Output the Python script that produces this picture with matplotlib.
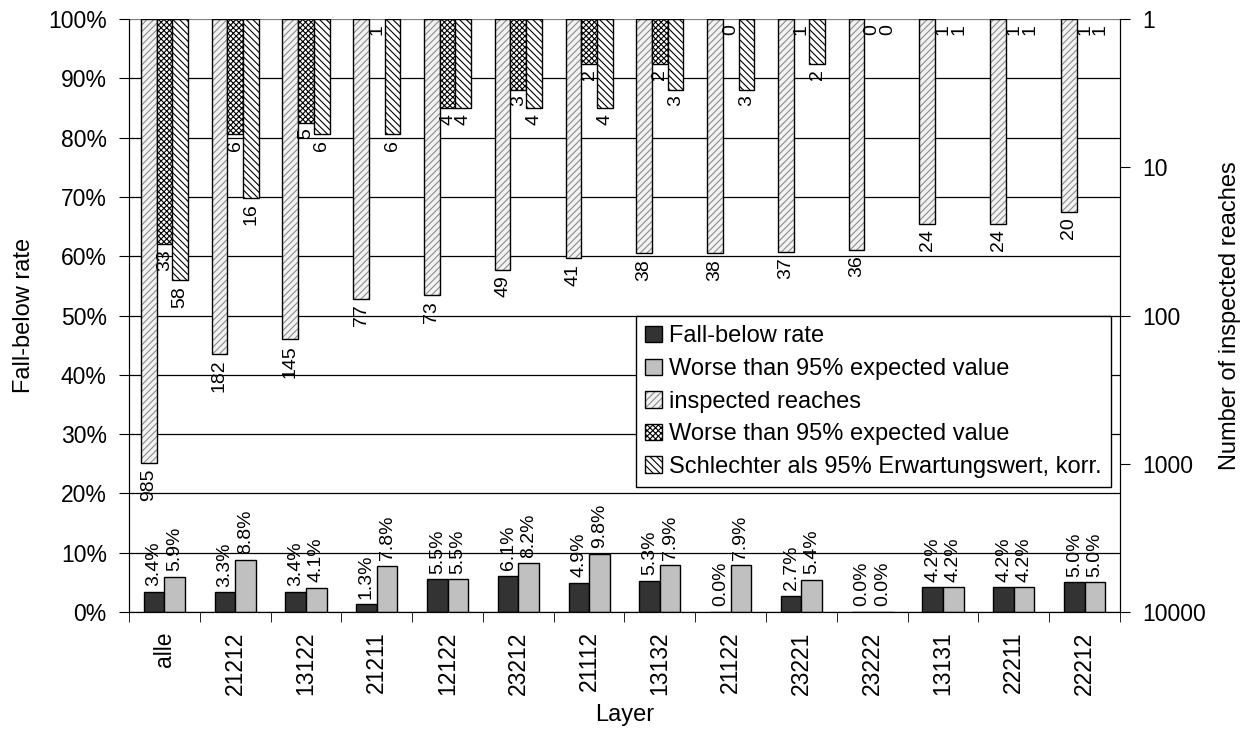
import numpy as np
import matplotlib.pyplot as plt
from matplotlib.patches import Patch
from matplotlib.ticker import PercentFormatter, NullLocator

plt.rcParams['font.family'] = ['Liberation Sans', 'DejaVu Sans']
plt.rcParams['hatch.linewidth'] = 0.8

# data
layers = ['alle', '21212', '13122', '21211', '12122', '23212', '21112',
          '13132', '21122', '23221', '23222', '13131', '22211', '22212']
fall_below = [3.4, 3.3, 3.4, 1.3, 5.5, 6.1, 4.9, 5.3, 0.0, 2.7, 0.0, 4.2, 4.2, 5.0]
worse_rate = [5.9, 8.8, 4.1, 7.8, 5.5, 8.2, 9.8, 7.9, 7.9, 5.4, 0.0, 4.2, 4.2, 5.0]
inspected = [985, 182, 145, 77, 73, 49, 41, 38, 38, 37, 36, 24, 24, 20]
worse_count = [33, 6, 5, 1, 4, 3, 2, 2, 0, 1, 0, 1, 1, 1]
worse_korr = [58, 16, 6, 6, 4, 4, 4, 3, 3, 2, 0, 1, 1, 1]

fig = plt.figure(figsize=(12.49, 7.35), dpi=100)
ax = fig.add_axes([0.1033, 0.1673, 0.7934, 0.8068])
ax2 = ax.twinx()

x = np.arange(len(layers))

# lower bars: rates (left axis)
w = 0.29
ax.bar(x - w/2, np.array(fall_below)/100, w, color='#333333', edgecolor='black', lw=1, zorder=2)
ax.bar(x + w/2, np.array(worse_rate)/100, w, color='#c0c0c0', edgecolor='black', lw=1, zorder=2)
for xi, v in zip(x - w/2, fall_below):
    ax.annotate(f'{v:.1f}%', (xi, v/100), xytext=(0, 4), textcoords='offset points',
                rotation=90, ha='center', va='bottom', fontsize=14)
for xi, v in zip(x + w/2, worse_rate):
    ax.annotate(f'{v:.1f}%', (xi, v/100), xytext=(0, 4), textcoords='offset points',
                rotation=90, ha='center', va='bottom', fontsize=14)

ax.set_xlim(-0.5, len(layers) - 0.5)
ax.set_ylim(0, 1)
ax.set_yticks(np.arange(0, 1.01, 0.1))
ax.yaxis.set_major_formatter(PercentFormatter(1, decimals=0))
ax.yaxis.grid(True, color='black', lw=0.9)
ax.get_ygridlines()[-1].set_color('#808080')
ax.set_axisbelow(True)
ax.set_xticks(x, layers, rotation=90)
ax.set_xticks(np.arange(-0.5, len(layers), 1), minor=True)
ax.tick_params(axis='x', which='major', length=0, pad=14, labelsize=16.5)
ax.tick_params(axis='x', which='minor', length=7, direction='out')
ax.tick_params(axis='y', length=7, pad=9, labelsize=16.5)
ax.spines['top'].set_visible(False)

# upper bars hanging from the top (right axis, log, inverted)
ax2.set_yscale('log')
ax2.set_ylim(10000, 1)
bw = 0.222


def hang(vals, off, face, hatch, hcolor):
    v = np.array(vals, float)
    keep = v > 1
    ax2.bar(x[keep] + off, v[keep] - 1, bw, bottom=1, color=face, edgecolor=hcolor,
            hatch=hatch, lw=0)
    ax2.bar(x[keep] + off, v[keep] - 1, bw, bottom=1, fill=False, edgecolor='black', lw=1)
    for xi, vi in zip(x + off, v):
        ax2.annotate(str(int(vi)), (xi, max(vi, 1)), xytext=(0, -4), textcoords='offset points',
                     rotation=90, ha='center', va='top', fontsize=14)


hang(inspected, -bw, '#f2f2f2', '/////', '#8c8c8c')
hang(worse_count, 0, 'white', 'xxxxxx', 'black')
hang(worse_korr, bw, 'white', '\\\\\\\\\\', 'black')

ax2.yaxis.set_minor_locator(NullLocator())
ax2.set_yticks([1, 10, 100, 1000, 10000], ['1', '10', '100', '1000', '10000'])
ax2.tick_params(axis='y', length=7, pad=9, labelsize=16.5)
ax2.spines['top'].set_visible(False)

ax.set_ylabel('Fall-below rate', fontsize=17)
ax.yaxis.set_label_coords(-0.095, 0.5)
ax2.set_ylabel('Number of inspected reaches', fontsize=17)
ax2.yaxis.set_label_coords(1.1, 0.5)
ax.set_xlabel('Layer', fontsize=17)
ax.xaxis.set_label_coords(0.5, -0.155)

handles = [
    Patch(facecolor='#333333', edgecolor='black'),
    Patch(facecolor='#c0c0c0', edgecolor='black'),
    (Patch(facecolor='#f2f2f2', edgecolor='#8c8c8c', hatch='/////', lw=0),
     Patch(fill=False, edgecolor='black')),
    Patch(facecolor='white', edgecolor='black', hatch='xxxxxx'),
    Patch(facecolor='white', edgecolor='black', hatch='\\\\\\\\\\'),
]
labels = ['Fall-below rate', 'Worse than 95% expected value', 'inspected reaches',
          'Worse than 95% expected value', 'Schlechter als 95% Erwartungswert, korr.']
leg = ax2.legend(handles, labels, loc='upper left', bbox_to_anchor=(0.5116, 0.4992),
                 fontsize=17, handlelength=0.7, handleheight=0.7, handletextpad=0.3,
                 labelspacing=0.45, borderpad=0.4, borderaxespad=0,
                 fancybox=False, framealpha=1, edgecolor='black')
leg.get_frame().set_linewidth(1)

fig.savefig('out.png', dpi=100)
